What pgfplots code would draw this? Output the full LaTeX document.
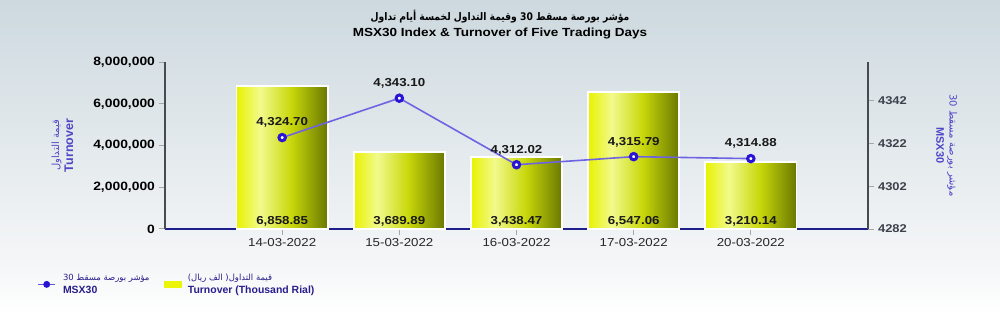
\documentclass[border=0pt]{standalone}
\usepackage{pgfplots}
\pgfplotsset{compat=1.18}
\usepackage{fontspec}
\setmainfont{Liberation Sans}
\newfontfamily\arabicfont[Script=Arabic]{DejaVu Sans}
\TeXXeTstate=1
\definecolor{bgtop}{RGB}{205,217,223}
\definecolor{bgmid}{RGB}{246,247,248}
\definecolor{lineblue}{RGB}{110,100,225}
\definecolor{markblue}{RGB}{40,20,210}
\definecolor{labelblue}{RGB}{80,70,200}
\definecolor{legblue}{RGB}{40,30,140}
\definecolor{axisgray}{RGB}{70,75,80}
\definecolor{xaxisblue}{RGB}{30,30,140}
\definecolor{rtick}{RGB}{60,65,75}
\definecolor{legyellow}{RGB}{235,245,10}
\definecolor{barA}{RGB}{232,242,0}
\definecolor{barB}{RGB}{242,250,140}
\definecolor{barD}{RGB}{200,215,10}
\definecolor{barC}{RGB}{105,120,0}
\pgfdeclareverticalshading{bgshade}{100bp}{color(0bp)=(white); color(25bp)=(white); color(32bp)=(bgmid); color(75bp)=(bgtop); color(100bp)=(bgtop)}
\pgfdeclarehorizontalshading{barshade}{100bp}{color(0bp)=(barA); color(25bp)=(barA); color(38bp)=(barB); color(55bp)=(barD); color(75bp)=(barC); color(100bp)=(barC)}
\pgfplotsset{mybar/.style={ybar, bar width=0.78, draw=white, line width=1.8bp, shade, shading=barshade}}
\begin{document}
\begin{tikzpicture}
\useasboundingbox (0,0) rectangle (1000bp,315bp);
\shade[shading=bgshade] (0,0) rectangle (1000bp,315bp);
\node[font=\arabicfont\bfseries\fontsize{10.5}{13}\selectfont, xscale=0.88] at (500bp,298bp) {\beginR مؤشر بورصة مسقط \beginL 30\endL{} وقيمة التداول لخمسة أيام تداول\endR};
\node[font=\bfseries\fontsize{11.8}{14}\selectfont, xscale=1.15] at (500bp,282bp) {MSX30 Index \& Turnover of Five Trading Days};
\begin{axis}[
  scale only axis, width=703bp, height=167bp,
  at={(165bp,86bp)}, anchor=south west,
  xmin=-1, xmax=5, ymin=0, ymax=8000000,
  clip=false,
  axis x line=bottom, axis y line=left,
  x axis line style={-, draw=xaxisblue, line width=1.2bp},
  y axis line style={-, draw=axisgray, line width=1.8bp},
  xtick={0,...,4},
  xticklabels={14-03-2022,15-03-2022,16-03-2022,17-03-2022,20-03-2022},
  ytick={0,2000000,4000000,6000000,8000000},
  scaled y ticks=false,
  /pgf/number format/assume math mode=true,
  /pgf/number format/fixed,
  /pgf/number format/1000 sep={,},
  tick align=outside,
  major tick length=6bp,
  tick style={draw=gray!70, line width=1bp},
  yticklabel style={font=\bfseries\fontsize{12.1}{14}\selectfont, text=black, xscale=1.15},
  xticklabel style={font=\fontsize{11.6}{14}\selectfont, text=black!85, xscale=1.15},
  ylabel={\shortstack{{\arabicfont\fontsize{10}{12}\selectfont\beginR قيمة التداول\endR}\\\textbf{Turnover}}},
  every axis y label/.style={at={(axis description cs:-0.146,0.5)}, rotate=90, anchor=center, font=\fontsize{12.5}{14}\selectfont, text=labelblue},
]
\addplot[mybar] coordinates {(0,6858850)};
\addplot[mybar] coordinates {(1,3689890)};
\addplot[mybar] coordinates {(2,3438470)};
\addplot[mybar] coordinates {(3,6547060)};
\addplot[mybar] coordinates {(4,3210140)};
\addplot[draw=none, mark=none, nodes near coords, point meta=explicit symbolic,
  every node near coord/.append style={anchor=base, yshift=4bp, font=\bfseries\fontsize{11.6}{14}\selectfont, text=black!90, xscale=1.15}]
  table[meta=lbl] {
x y lbl
0 0 6,858.85
1 0 3,689.89
2 0 3,438.47
3 0 6,547.06
4 0 3,210.14
};
\end{axis}
\begin{axis}[
  scale only axis, width=703bp, height=167bp,
  at={(165bp,86bp)}, anchor=south west,
  xmin=-1, xmax=5, ymin=4282, ymax=4360,
  clip=false,
  axis x line=none, axis y line=right,
  y axis line style={-, draw=axisgray, line width=1.8bp},
  ytick={4282,4302,4322,4342},
  /pgf/number format/assume math mode=true,
  /pgf/number format/1000 sep={},
  tick align=outside,
  major tick length=6bp,
  tick style={draw=gray!70, line width=1bp},
  yticklabel style={font=\bfseries\fontsize{11.3}{14}\selectfont, text=rtick, xscale=1.15},
  ylabel={\shortstack{{\arabicfont\fontsize{10}{12}\selectfont\beginR مؤشر بورصة مسقط \beginL 30\endL\endR}\\\textbf{MSX30}}},
  every axis y label/.style={at={(axis description cs:1.112,0.5)}, rotate=-90, anchor=center, font=\fontsize{11}{13}\selectfont, text=labelblue},
  legend columns=2,
  legend cell align=left,
  legend style={at={(axis description cs:-0.186,-0.245)}, anchor=north west, draw=none, fill=none,
    font=\fontsize{10.5}{12}\selectfont, text=legblue,
    /tikz/every odd column/.append style={column sep=5bp},
    /tikz/every even column/.append style={column sep=12bp}},
]
\addplot[lineblue, line width=1.6bp, mark=*, mark size=3.2bp,
  mark options={draw=markblue, line width=3bp, fill=white},
  nodes near coords, point meta=explicit symbolic,
  every node near coord/.append style={anchor=south, yshift=5bp, font=\bfseries\fontsize{11.6}{14}\selectfont, text=black!90, xscale=1.15},
  legend image code/.code={\draw[lineblue!80!markblue, line width=1.6bp] (0cm,0cm) -- (0.6cm,0cm); \fill[markblue] (0.3cm,0cm) circle (2.6bp);}]
  table[meta=lbl] {
x y lbl
0 4324.70 4,324.70
1 4343.10 4,343.10
2 4312.02 4,312.02
3 4315.79 4,315.79
4 4314.88 4,314.88
};
\addlegendentry{\shortstack[l]{{\arabicfont\fontsize{8.5}{10}\selectfont\beginR مؤشر بورصة مسقط \beginL 30\endL\endR}\\\textbf{MSX30}}}
\addlegendimage{legend image code/.code={\fill[legyellow] (0cm,-0.1cm) rectangle (0.6cm,0.12cm);}}
\addlegendentry{\shortstack[l]{{\arabicfont\fontsize{8.5}{10}\selectfont\beginR قيمة التداول( الف ريال)\endR}\\\textbf{Turnover (Thousand Rial)}}}
\end{axis}
\end{tikzpicture}
\end{document}
